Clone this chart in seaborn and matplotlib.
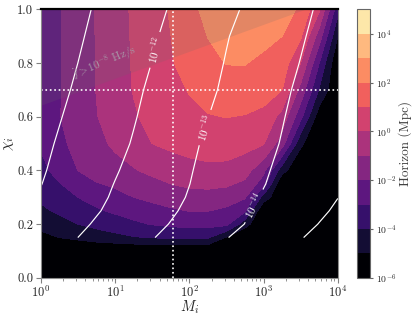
"""Horizon map of boson-cloud signals over black-hole mass and initial spin."""

import matplotlib

matplotlib.use("Agg")
import matplotlib.pyplot as plt
import numpy as np
import seaborn as sns

# grid: log10 of the black-hole mass and the initial spin
log_mass = [0.0, 0.25, 0.5, 0.75, 1.0, 1.25, 1.5, 1.75, 2.0,
            2.25, 2.5, 2.75, 3.0, 3.25, 3.5, 3.75, 4.0]
spin = [0.0, 0.1, 0.15, 0.2, 0.25, 0.3, 0.35, 0.4, 0.5, 0.6, 0.7, 0.8, 0.9, 1.0]

# log10 horizon in Mpc, one row per spin value
horizon_rows = [
    [-6] * 17,
    [-6] * 17,
    [-5.3, -5.0, -4.78, -4.5, -4.3, -4.08, -3.95, -3.88, -3.85, -3.9, -5.1, -6, -6, -6, -6, -6, -6],
    [-4.67, -4.33, -4.0, -3.73, -3.46, -3.18, -2.95, -2.8, -2.7, -2.68, -2.75, -4.6, -6, -6, -6, -6, -6],
    [-4.19, -3.84, -3.48, -3.12, -2.85, -2.6, -2.38, -2.14, -1.97, -1.97, -2.2, -2.85, -6, -6, -6, -6, -6],
    [-3.83, -3.42, -3.0, -2.67, -2.33, -2.0, -1.75, -1.55, -1.42, -1.38, -1.5, -1.9, -4.4, -6, -6, -6, -6],
    [-3.56, -3.05, -2.55, -2.06, -1.85, -1.6, -1.31, -1.0, -0.8, -0.75, -0.85, -1.2, -2.5, -6, -6, -6, -6],
    [-3.28, -2.65, -2.0, -1.62, -1.36, -1.08, -0.75, -0.5, -0.3, -0.2, -0.25, -0.6, -1.75, -4.6, -6, -6, -6],
    [-2.9, -2.2, -1.73, -1.27, -0.83, -0.42, 0.0, 0.2, 0.33, 0.42, 0.45, 0.35, 0.05, -1.55, -4.8, -6, -6],
    [-2.65, -2.04, -1.54, -1.04, -0.58, -0.1, 0.25, 0.53, 0.78, 0.95, 1.02, 0.95, 0.75, -0.35, -2.7, -5.6, -6],
    [-2.62, -2.07, -1.52, -0.98, -0.46, 0.04, 0.36, 0.72, 1.05, 1.35, 1.52, 1.55, 1.4, 1.0, -1.33, -4.1, -6],
    [-2.6, -2.07, -1.52, -0.97, -0.43, 0.08, 0.5, 0.92, 1.35, 1.75, 2.03, 2.05, 1.73, 1.55, 0.0, -3.0, -6],
    [-2.6, -2.07, -1.51, -0.96, -0.41, 0.1, 0.55, 0.99, 1.48, 2.02, 2.35, 2.45, 2.35, 2.0, 1.14, -1.5, -5.0],
    [-2.6, -2.07, -1.5, -0.93, -0.39, 0.13, 0.59, 1.08, 1.74, 2.25, 2.6, 2.75, 2.65, 2.4, 1.86, 0.13, -3.67],
]

# log10 frequency drift in Hz/s, not defined below spin 0.15
nan_row = [np.nan] * 17
fdot_rows = [
    nan_row,
    nan_row,
    [-11.5, -11.75, -12.0, -12.24, -12.48, -12.72, -12.96, -13.21, -13.46, -13.72, -13.97, -14.22, -14.47, -14.71, -14.96, -15.21, -15.46],
    [-11.34, -11.59, -11.84, -12.08, -12.32, -12.56, -12.79, -13.03, -13.27, -13.52, -13.76, -14.01, -14.26, -14.52, -14.77, -15.02, -15.27],
    [-11.19, -11.44, -11.69, -11.94, -12.18, -12.42, -12.66, -12.9, -13.15, -13.4, -13.66, -13.91, -14.15, -14.39, -14.63, -14.87, -15.11],
    [-11.07, -11.33, -11.58, -11.84, -12.09, -12.33, -12.57, -12.81, -13.05, -13.3, -13.56, -13.81, -14.06, -14.29, -14.52, -14.76, -14.99],
    [-10.98, -11.24, -11.5, -11.76, -12.02, -12.26, -12.5, -12.75, -12.99, -13.24, -13.48, -13.73, -13.97, -14.22, -14.46, -14.71, -14.95],
    [-10.92, -11.17, -11.43, -11.68, -11.94, -12.19, -12.44, -12.7, -12.95, -13.19, -13.43, -13.67, -13.91, -14.16, -14.41, -14.66, -14.91],
    [-10.82, -11.07, -11.31, -11.56, -11.8, -12.05, -12.32, -12.59, -12.86, -13.11, -13.34, -13.57, -13.8, -14.04, -14.29, -14.54, -14.79],
    [-10.71, -10.96, -11.21, -11.46, -11.7, -11.95, -12.21, -12.47, -12.73, -12.99, -13.23, -13.48, -13.72, -13.96, -14.21, -14.46, -14.71],
    [-10.6, -10.85, -11.1, -11.36, -11.61, -11.86, -12.12, -12.37, -12.62, -12.87, -13.12, -13.37, -13.62, -13.87, -14.13, -14.38, -14.63],
    [-10.5, -10.75, -11.0, -11.25, -11.51, -11.76, -12.01, -12.29, -12.53, -12.78, -13.04, -13.28, -13.53, -13.78, -14.02, -14.27, -14.52],
    [-10.41, -10.66, -10.91, -11.16, -11.41, -11.66, -11.91, -12.17, -12.43, -12.69, -12.96, -13.2, -13.44, -13.68, -13.93, -14.17, -14.42],
    [-10.32, -10.57, -10.82, -11.07, -11.31, -11.56, -11.8, -12.05, -12.31, -12.56, -12.82, -13.07, -13.32, -13.57, -13.83, -14.08, -14.33],
]

horizon_levels = list(range(-6, 6))
cbar_ticks = [-6, -4, -2, 0, 2, 4]
fdot_plain = [-15, -11]
fdot_labelled = [-14, -13, -12]

# edge of the fast-drift region (fdot > 1e-8 Hz/s)
fast_log_mass = [0.0, 3.55, 4.0]
fast_spin = [0.643, 1.0, 1.0]

ref_spin = 0.7
ref_mass = 60.0

sns.set_theme(style="ticks")
plt.rcParams.update({
    "font.family": "serif",
    "font.serif": ["cmr10"],
    "mathtext.fontset": "cm",
    "axes.formatter.use_mathtext": True,
    "xtick.major.size": 3.5,
    "ytick.major.size": 3.5,
    "xtick.minor.size": 2,
    "xtick.major.width": 0.8,
    "ytick.major.width": 0.8,
    "xtick.minor.width": 0.6,
})

horizon = np.array(horizon_rows, dtype=float)
fdot = np.array(fdot_rows, dtype=float)
magma = sns.color_palette("magma", as_cmap=True)
band_colors = magma(np.linspace(0, 0.95, len(horizon_levels) - 1))

fig = plt.figure(figsize=(4.15, 3.15), dpi=100)
ax = fig.add_axes([0.098, 0.118, 0.716, 0.852])
cax = fig.add_axes([0.860, 0.118, 0.032, 0.852])

filled = ax.contourf(log_mass, spin, horizon, levels=horizon_levels, colors=band_colors)

ax.fill_between(fast_log_mass, fast_spin, 1.0, color="dimgray", alpha=0.17, lw=0)
ax.text(0.48, 0.722, r"$\dot{f} > 10^{-8}$ Hz/s", rotation=23, color="#a898a8",
        fontsize=8, ha="left", va="bottom", rotation_mode="anchor")

line_style = dict(colors="white", linewidths=0.85, linestyles="solid")
ax.contour(log_mass, spin, fdot, levels=fdot_plain, **line_style)
lines = ax.contour(log_mass, spin, fdot, levels=fdot_labelled, **line_style)
label_spots = [(2.86, 0.27), (2.21, 0.56), (1.53, 0.85)]
ax.clabel(lines, inline=True, fontsize=8,
          fmt=lambda v: rf"$10^{{{int(round(v))}}}$", manual=label_spots)

ax.axhline(ref_spin, color="white", ls=":", lw=1.2)
ax.axvline(np.log10(ref_mass), color="white", ls=":", lw=1.2)

ax.set_xlim(0, 4)
ax.set_ylim(0, 1)
ax.set_xticks(range(5))
ax.set_xticklabels([rf"$10^{{{n}}}$" for n in range(5)])
minor = [n + np.log10(k) for n in range(4) for k in range(2, 10)]
ax.set_xticks(minor, minor=True)
ax.set_yticks(np.arange(0, 1.01, 0.2))
ax.set_yticklabels([f"{v:.1f}" for v in np.arange(0, 1.01, 0.2)])
ax.tick_params(labelsize=9, color="0.5", which="both", pad=2)
ax.tick_params(axis="x", pad=1.5)
ax.set_xlabel(r"$M_i$", fontsize=10.5, labelpad=-1)
ax.set_ylabel(r"$\chi_i$", fontsize=11, labelpad=1)
for side in ["left", "right", "bottom"]:
    ax.spines[side].set_color("0.55")
    ax.spines[side].set_linewidth(0.8)
ax.spines["top"].set_color("black")
ax.spines["top"].set_linewidth(1.6)

cbar = fig.colorbar(filled, cax=cax, ticks=cbar_ticks)
cbar.ax.set_yticklabels([rf"$10^{{{n}}}$" for n in cbar_ticks])
cbar.ax.tick_params(labelsize=7, length=2.5, color="0.4", pad=1.5)
cbar.outline.set_edgecolor("0.4")
cbar.outline.set_linewidth(0.8)
cbar.set_label("Horizon (Mpc)", fontsize=9.5, color="0.25", labelpad=1)

fig.savefig("out.png", dpi=100)
